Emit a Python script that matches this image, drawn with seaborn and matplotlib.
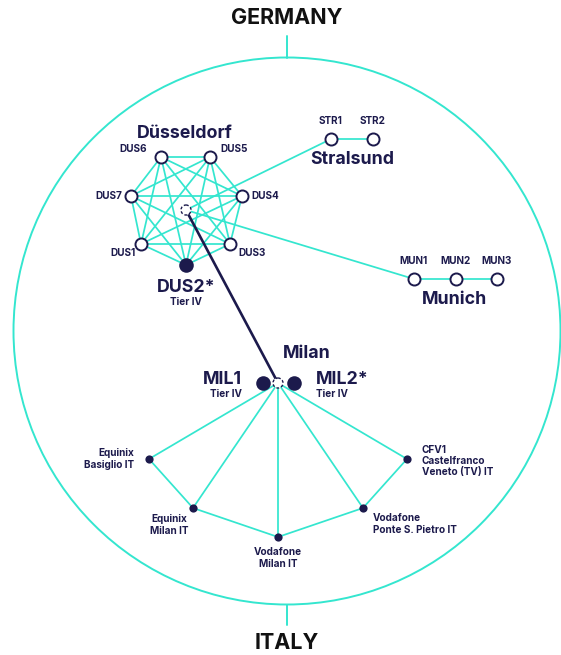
import numpy as np
import pandas as pd
import seaborn as sns
import matplotlib.pyplot as plt
from matplotlib.patches import Circle

sns.set_style('white')
plt.rcParams['font.family'] = ['Inter', 'DejaVu Sans']

CYAN = '#34E6CF'
NAVY = '#1C1A4C'

# node positions (layout units, y grows downward)
dus_names = ['DUS1', 'DUS2', 'DUS3', 'DUS4', 'DUS5', 'DUS6', 'DUS7']
dus_x = [141, 186, 230, 242, 210, 161, 131]
dus_y = [244, 265, 244, 196, 157, 157, 196]
dus_hub = (186, 210)

str_names = ['STR1', 'STR2']
str_x = [331, 373]
str_y = [139, 139]

mun_names = ['MUN1', 'MUN2', 'MUN3']
mun_x = [414, 456, 497]
mun_y = [279, 279, 279]

mil_names = ['MIL1', 'MIL2*']
mil_x = [263, 294]
mil_y = [383, 383]
mil_hub = (278, 383)

it_names = ['Equinix\nBasiglio IT', 'Equinix\nMilan IT', 'Vodafone\nMilan IT',
            'Vodafone\nPonte S. Pietro IT', 'CFV1\nCastelfranco\nVeneto (TV) IT']
it_x = [149, 193, 278, 363, 407]
it_y = [459, 508, 537, 508, 459]

fig = plt.figure(figsize=(5.61, 6.55), dpi=100)
ax = fig.add_axes([0, 0, 1, 1])
ax.set_xlim(0, 561)
ax.set_ylim(655, 0)
ax.axis('off')

# outer circle and the two ticks
ax.add_patch(Circle((287, 331), 273.5, fill=False, ec=CYAN, lw=1.4, zorder=1))
ax.plot([287, 287], [36, 57.5], color=CYAN, lw=1.4)
ax.plot([287, 287], [604.5, 625], color=CYAN, lw=1.4)
ax.text(287, 18, 'GERMANY', ha='center', va='center', fontsize=15.5, fontweight='bold', color='#111111')
ax.text(287, 643, 'ITALY', ha='center', va='center', fontsize=15.5, fontweight='bold', color='#111111')

def edge(p, q, color=CYAN, lw=1.25):
    ax.plot([p[0], q[0]], [p[1], q[1]], color=color, lw=lw, zorder=2)

# Düsseldorf full mesh
for i in range(len(dus_names)):
    for j in range(i + 1, len(dus_names)):
        edge((dus_x[i], dus_y[i]), (dus_x[j], dus_y[j]))
edge(dus_hub, (str_x[0], str_y[0]))
edge(dus_hub, (mun_x[0], mun_y[0]))
edge((str_x[0], str_y[0]), (str_x[1], str_y[1]))
edge((mun_x[0], mun_y[0]), (mun_x[1], mun_y[1]))
edge((mun_x[1], mun_y[1]), (mun_x[2], mun_y[2]))

# Milan star + ring
for x, y in zip(it_x, it_y):
    edge(mil_hub, (x, y))
for i in range(len(it_x) - 1):
    edge((it_x[i], it_y[i]), (it_x[i + 1], it_y[i + 1]))

# inter-country link
edge(dus_hub, mil_hub, color=NAVY, lw=1.9)

# open nodes
open_df = pd.DataFrame({
    'x': [x for k, x in enumerate(dus_x) if k != 1] + str_x + mun_x,
    'y': [y for k, y in enumerate(dus_y) if k != 1] + str_y + mun_y,
})
sns.scatterplot(data=open_df, x='x', y='y', ax=ax, s=75, color='white',
                edgecolor=NAVY, linewidth=1.4, zorder=4)
# tier IV filled nodes
big_df = pd.DataFrame({'x': [dus_x[1]] + mil_x, 'y': [dus_y[1]] + mil_y})
sns.scatterplot(data=big_df, x='x', y='y', ax=ax, s=110, color=NAVY,
                edgecolor=NAVY, linewidth=0, zorder=4)
# italian sites
it_df = pd.DataFrame({'x': it_x, 'y': it_y})
sns.scatterplot(data=it_df, x='x', y='y', ax=ax, s=35, color=NAVY,
                edgecolor=NAVY, linewidth=0, zorder=4)
# dashed hubs
for hx, hy in [dus_hub, mil_hub]:
    ax.add_patch(Circle((hx, hy), 5, fc='white', ec=NAVY, lw=1.0, ls=(0, (2, 1.5)), zorder=5))

lab = dict(color=NAVY, fontweight='bold', zorder=6)
# Düsseldorf labels
ax.text(185, 133, 'Düsseldorf', ha='center', va='center', fontsize=12.8, **lab)
dus_lab = {
    'DUS6': (147, 149, 'right'), 'DUS5': (220, 149, 'left'),
    'DUS7': (122, 196, 'right'), 'DUS4': (251, 196, 'left'),
    'DUS1': (136, 253, 'right'), 'DUS3': (238, 253, 'left'),
}
for n, (lx, ly, ha) in dus_lab.items():
    ax.text(lx, ly, n, ha=ha, va='center', fontsize=7.2, **lab)
ax.text(186, 288, 'DUS2*', ha='center', va='center', fontsize=12.8, **lab)
ax.text(186, 302, 'Tier IV', ha='center', va='center', fontsize=7.2, **lab)

for n, x, y in zip(str_names, str_x, str_y):
    ax.text(x, y - 18, n, ha='center', va='center', fontsize=7.2, **lab)
ax.text(352, 160, 'Stralsund', ha='center', va='center', fontsize=12.8, **lab)
for n, x, y in zip(mun_names, mun_x, mun_y):
    ax.text(x, y - 18, n, ha='center', va='center', fontsize=7.2, **lab)
ax.text(455, 300, 'Munich', ha='center', va='center', fontsize=12.8, **lab)

ax.text(307, 353, 'Milan', ha='center', va='center', fontsize=12.8, **lab)
ax.text(242, 380, 'MIL1', ha='right', va='center', fontsize=12.8, **lab)
ax.text(242, 394, 'Tier IV', ha='right', va='center', fontsize=7.2, **lab)
ax.text(316, 380, 'MIL2*', ha='left', va='center', fontsize=12.8, **lab)
ax.text(316, 394, 'Tier IV', ha='left', va='center', fontsize=7.2, **lab)

it_lab = [(134, 459, 'right'), (169, 525, 'center'), (278, 558, 'center'),
          (373, 524, 'left'), (422, 461, 'left')]
for n, (lx, ly, ha) in zip(it_names, it_lab):
    ax.text(lx, ly, n, ha=ha, va='center', fontsize=7.2, linespacing=1.15,
            multialignment=ha, **lab)

fig.savefig('out.png', dpi=100)
